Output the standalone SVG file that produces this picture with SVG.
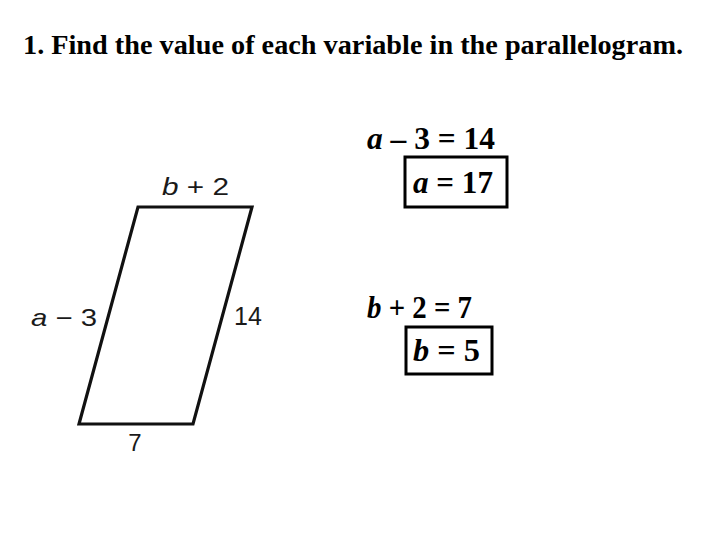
<svg xmlns="http://www.w3.org/2000/svg" width="720" height="540" viewBox="0 0 720 540">
<style>
.title{font-family:"Liberation Serif","Times New Roman",serif;font-weight:bold;font-size:28px;fill:#000}
.lbl{font-family:"Liberation Sans",Arial,sans-serif;fill:#1a1a1a}
.eq{font-family:"Liberation Serif","Times New Roman",serif;font-weight:bold;font-size:31px;fill:#000}
.box{fill:none;stroke:#000;stroke-width:3}
</style>
<rect width="720" height="540" fill="#fff"/>
<text class="title" x="23" y="54" textLength="660" lengthAdjust="spacingAndGlyphs">1.  Find the value of each variable in the parallelogram.</text>
<g id="parallelogram">
<polygon points="138,207 252,207 193,424 79,424" fill="none" stroke="#111" stroke-width="3.2" stroke-linejoin="miter"/>
</g>
<g id="labels">
<text class="lbl" x="162" y="195" font-size="23" textLength="67" lengthAdjust="spacingAndGlyphs"><tspan font-style="italic">b</tspan> + 2</text>
<text class="lbl" x="31" y="326" font-size="24" textLength="66" lengthAdjust="spacingAndGlyphs"><tspan font-style="italic">a</tspan> − 3</text>
<text class="lbl" x="234" y="325" font-size="25">14</text>
<text class="lbl" x="135" y="451" font-size="24" text-anchor="middle">7</text>
</g>
<g id="eq-a">
<text class="eq" x="367" y="149" textLength="128" lengthAdjust="spacingAndGlyphs"><tspan font-style="italic">a</tspan> – 3 = 14</text>
<rect class="box" x="405" y="157" width="102" height="50"/>
<text class="eq" x="413" y="193" textLength="80" lengthAdjust="spacingAndGlyphs"><tspan font-style="italic">a</tspan> = 17</text>
</g>
<g id="eq-b">
<text class="eq" x="367" y="318" textLength="105" lengthAdjust="spacingAndGlyphs"><tspan font-style="italic">b</tspan> + 2 = 7</text>
<rect class="box" x="406" y="327" width="86" height="47"/>
<text class="eq" x="413" y="361" textLength="67" lengthAdjust="spacingAndGlyphs"><tspan font-style="italic">b</tspan> = 5</text>
</g>
</svg>
